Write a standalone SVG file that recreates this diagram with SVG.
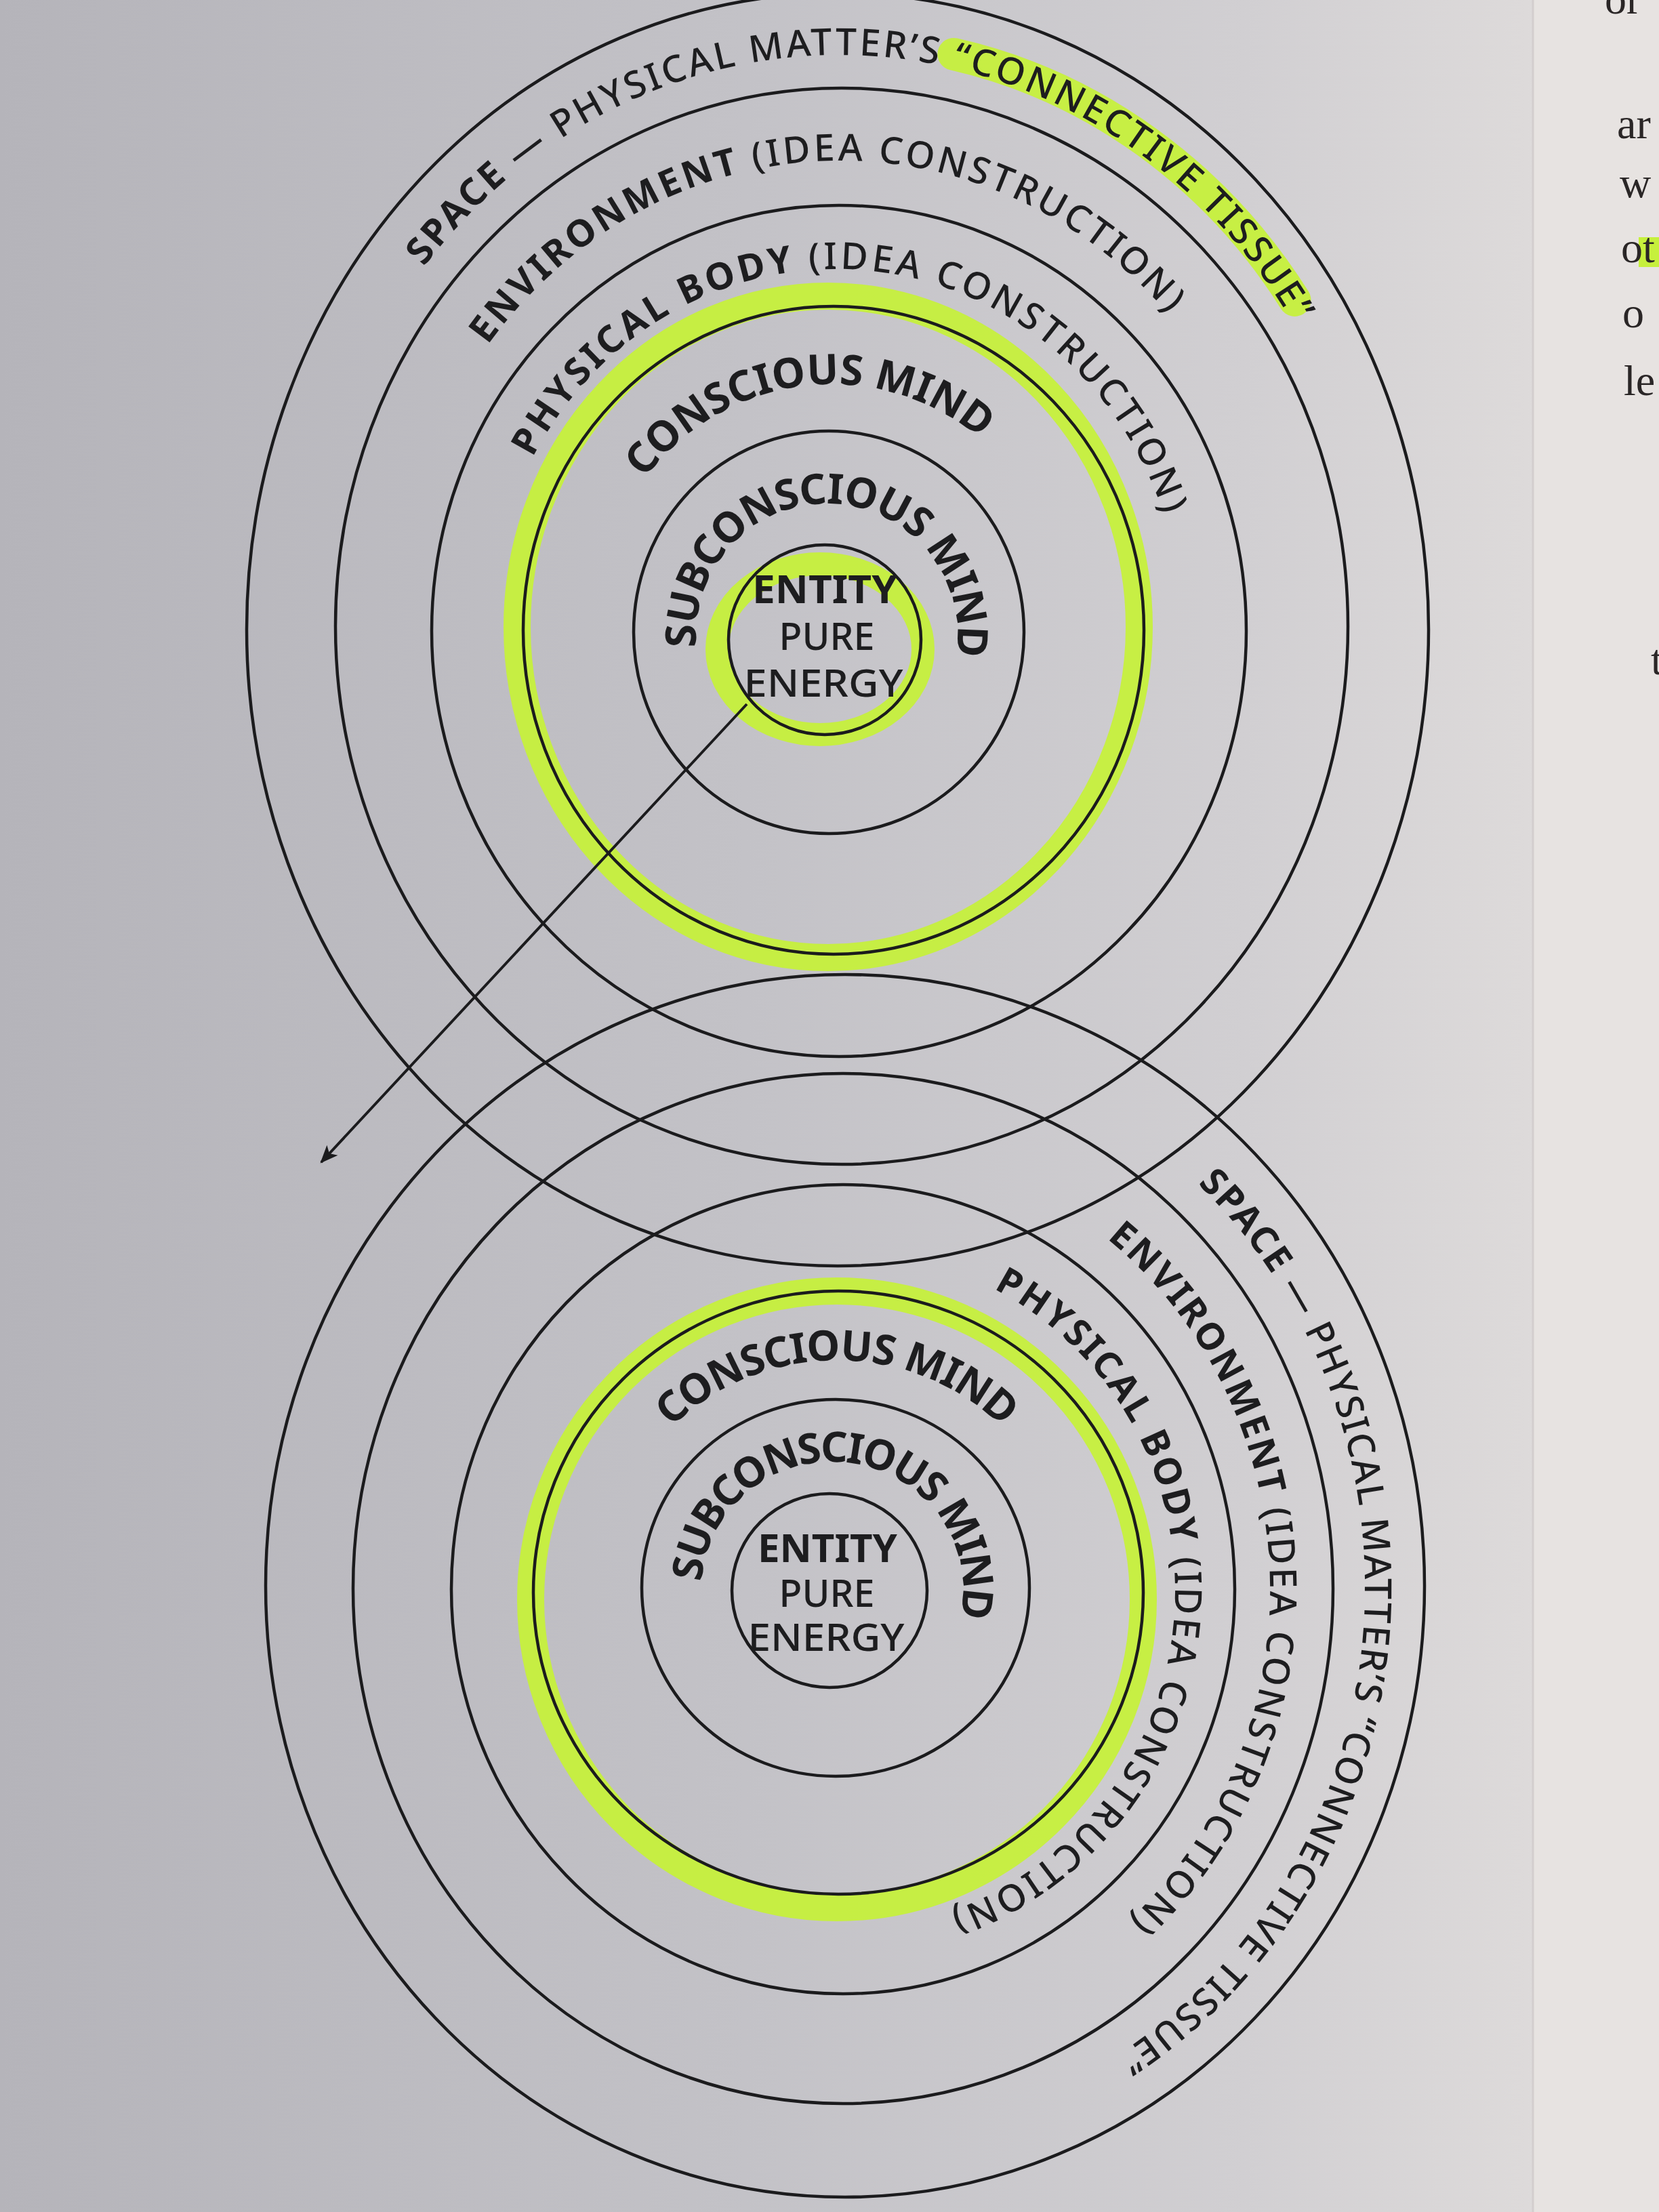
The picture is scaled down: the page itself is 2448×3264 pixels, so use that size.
<svg xmlns="http://www.w3.org/2000/svg" width="2448" height="3264" viewBox="0 0 2448 3264">
<defs>
  <linearGradient id="paper" x1="0" y1="0" x2="1" y2="0">
    <stop offset="0" stop-color="#b5b4ba"/>
    <stop offset="0.45" stop-color="#c3c2c7"/>
    <stop offset="0.75" stop-color="#d1cfd2"/>
    <stop offset="0.92" stop-color="#dddada"/>
    <stop offset="1" stop-color="#e4e0df"/>
  </linearGradient>
  <marker id="arrowhead" viewBox="0 0 12 10" refX="11" refY="5" markerWidth="34" markerHeight="22" markerUnits="userSpaceOnUse" orient="auto">
    <path d="M0,0 L12,5 L0,10 L3,5 z" fill="#1b1b1d"/>
  </marker>
  <!-- text baselines, top set -->
  <path id="p-ts" d="M 603.9 1430.2 A 790 846 0 1 1 1812.1 1509.4"/>
  <path id="p-te" d="M 757.8 1394.8 A 654 691 0 1 1 1758.9 1348.7"/>
  <path id="p-tp" d="M 816.2 1235.7 A 510 533 0 1 1 1594.6 1306.9"/>
  <path id="p-tc" d="M 985.5 1195.0 A 351 364 0 1 1 1519.7 1131.9"/>
  <path id="p-tsc" d="M 1067.9 1058.1 A 193 195 0 1 1 1363.4 1068.5"/>
  <!-- text baselines, bottom set -->
  <path id="p-bs" d="M 809.4 1673.7 A 769 811 0 1 1 696.5 2910.4"/>
  <path id="p-be" d="M 822.5 1856.0 A 630 658 0 1 1 856.1 2863.5"/>
  <path id="p-bp" d="M 949.6 1941.7 A 494 501 0 1 1 896.8 2707.4"/>
  <path id="p-bc" d="M 969.9 2564.0 A 346 339 0 1 1 1500.1 2564.0"/>
  <path id="p-bsc" d="M 1064.3 2444.6 A 193 188 0 1 1 1357.1 2484.7"/>
</defs>
<style>
  .ring{fill:none;stroke:#1b1b1d;stroke-width:4.5}
  .hl{fill:none;stroke:#c6f03c;stroke-linecap:round;opacity:0.95}
  .lbl{font-family:"Noto Sans","Liberation Sans",sans-serif;font-size:55px;font-weight:500;fill:#1d1d1f;text-anchor:middle}
  .big{font-size:62px}
  .ctr{font-family:"Noto Sans","Liberation Sans",sans-serif;font-size:57px;font-weight:500;fill:#1d1d1f;text-anchor:middle}
  .page{font-family:"Liberation Serif",serif;font-size:64px;fill:#2a2626}
  .conn{fill:none;stroke:#1b1b1d;stroke-width:4}
  .b{font-weight:700}
</style>

<rect x="0" y="0" width="2448" height="3264" fill="url(#paper)"/>
<rect x="2262" y="0" width="186" height="3264" fill="#e7e3e1"/>
<line x1="2262" y1="0" x2="2262" y2="3264" stroke="#d3cece" stroke-width="3"/>

<!-- highlighter marks -->
<g id="highlights">
  <ellipse class="hl" cx="1222" cy="925" rx="459" ry="488" stroke-width="40"/>
  <ellipse class="hl" cx="1210" cy="958" rx="152" ry="126" stroke-width="34"/>
  <ellipse class="hl" cx="1235" cy="2360" rx="452" ry="455" stroke-width="40"/>
  <path class="hl" d="M 1407.4 79.9 A 810 866 0 0 1 1910.5 442.9" stroke-width="48"/>
  <rect x="2418" y="350" width="30" height="44" fill="#c6f03c"/>
</g>

<!-- top set of rings -->
<g id="top-set">
  <g id="top-space">
    <ellipse class="ring" cx="1236" cy="929" rx="872" ry="939"/>
    <text class="lbl"><textPath href="#p-ts" startOffset="50%" textLength="1528" lengthAdjust="spacing"><tspan class="b">SPACE</tspan> — PHYSICAL MATTER’S “CONNECTIVE TISSUE”</textPath></text>
  </g>
  <g id="top-environment">
    <ellipse class="ring" cx="1242" cy="924" rx="747" ry="794"/>
    <text class="lbl"><textPath href="#p-te" startOffset="50%" textLength="1161" lengthAdjust="spacing"><tspan class="b">ENVIRONMENT</tspan> (IDEA CONSTRUCTION)</textPath></text>
  </g>
  <g id="top-physical-body">
    <ellipse class="ring" cx="1238" cy="931" rx="601" ry="628"/>
    <text class="lbl"><textPath href="#p-tp" startOffset="50%" textLength="1200" lengthAdjust="spacing"><tspan class="b">PHYSICAL BODY</tspan> (IDEA CONSTRUCTION)</textPath></text>
  </g>
  <g id="top-conscious-mind">
    <ellipse class="ring" cx="1230" cy="930" rx="458" ry="478"/>
    <text class="lbl big b"><textPath href="#p-tc" startOffset="50%" textLength="559" lengthAdjust="spacing">CONSCIOUS MIND</textPath></text>
  </g>
  <g id="top-subconscious-mind">
    <ellipse class="ring" cx="1223" cy="933" rx="288" ry="297"/>
    <text class="lbl big b"><textPath href="#p-tsc" startOffset="50%" textLength="657" lengthAdjust="spacing">SUBCONSCIOUS MIND</textPath></text>
  </g>
  <g id="top-entity">
    <ellipse class="ring" cx="1217" cy="944" rx="142" ry="140"/>
    <text class="ctr b" x="1217" y="890" textLength="214" lengthAdjust="spacingAndGlyphs">ENTITY</text>
    <text class="ctr" x="1220" y="959" textLength="141" lengthAdjust="spacingAndGlyphs">PURE</text>
    <text class="ctr" x="1215" y="1028" textLength="235" lengthAdjust="spacingAndGlyphs">ENERGY</text>
  </g>
</g>

<!-- bottom set of rings -->
<g id="bottom-set">
  <g id="bottom-space">
    <ellipse class="ring" cx="1247" cy="2340" rx="855" ry="902"/>
    <text class="lbl"><textPath href="#p-bs" startOffset="50%" textLength="1475" lengthAdjust="spacing"><tspan class="b">SPACE</tspan> — PHYSICAL MATTER’S “CONNECTIVE TISSUE”</textPath></text>
  </g>
  <g id="bottom-environment">
    <ellipse class="ring" cx="1244" cy="2344" rx="723" ry="760"/>
    <text class="lbl"><textPath href="#p-be" startOffset="50%" textLength="1135" lengthAdjust="spacing"><tspan class="b">ENVIRONMENT</tspan> (IDEA CONSTRUCTION)</textPath></text>
  </g>
  <g id="bottom-physical-body">
    <ellipse class="ring" cx="1244" cy="2345" rx="578" ry="597"/>
    <text class="lbl"><textPath href="#p-bp" startOffset="50%" textLength="1162" lengthAdjust="spacing"><tspan class="b">PHYSICAL BODY</tspan> (IDEA CONSTRUCTION)</textPath></text>
  </g>
  <g id="bottom-conscious-mind">
    <ellipse class="ring" cx="1237" cy="2350" rx="450" ry="445"/>
    <text class="lbl big b"><textPath href="#p-bc" startOffset="50%" textLength="540" lengthAdjust="spacing">CONSCIOUS MIND</textPath></text>
  </g>
  <g id="bottom-subconscious-mind">
    <ellipse class="ring" cx="1233" cy="2343" rx="286" ry="278"/>
    <text class="lbl big b"><textPath href="#p-bsc" startOffset="50%" textLength="630" lengthAdjust="spacing">SUBCONSCIOUS MIND</textPath></text>
  </g>
  <g id="bottom-entity">
    <ellipse class="ring" cx="1224" cy="2347" rx="144" ry="143"/>
    <text class="ctr b" x="1221" y="2305" textLength="206" lengthAdjust="spacingAndGlyphs">ENTITY</text>
    <text class="ctr" x="1220" y="2371" textLength="141" lengthAdjust="spacingAndGlyphs">PURE</text>
    <text class="ctr" x="1219" y="2436" textLength="231" lengthAdjust="spacingAndGlyphs">ENERGY</text>
  </g>
</g>

<!-- connector: arrow out of the top entity -->
<g id="connectors">
  <line class="conn" x1="1102" y1="1039" x2="474" y2="1715" marker-end="url(#arrowhead)"/>
</g>

<!-- cut-off text of the facing page -->
<g id="page-margin-text">
  <text class="page" x="2368" y="20">or</text>
  <text class="page" x="2386" y="204">ar</text>
  <text class="page" x="2390" y="291">w</text>
  <text class="page" x="2392" y="387">ot</text>
  <text class="page" x="2394" y="483">o</text>
  <text class="page" x="2396" y="583">le</text>
  <text class="page" x="2436" y="995">t</text>
</g>
</svg>
